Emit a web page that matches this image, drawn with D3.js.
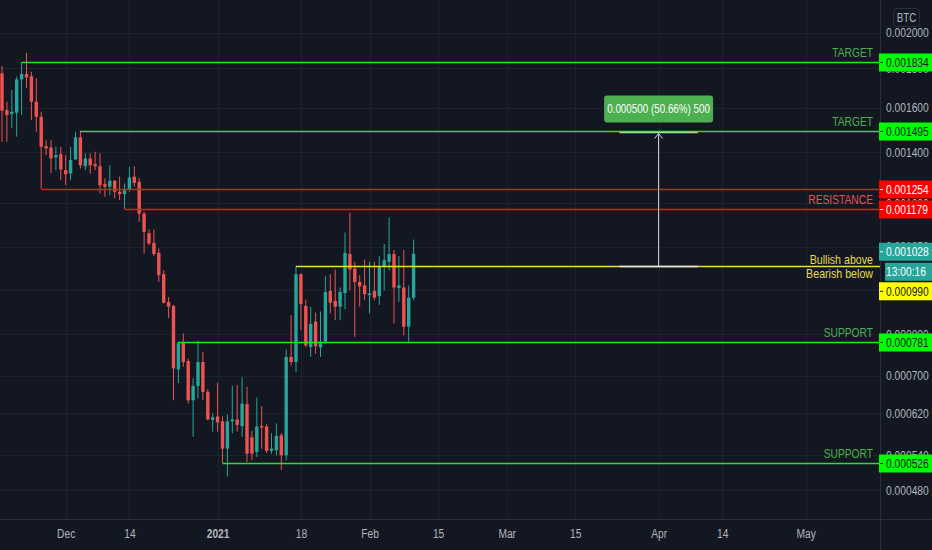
<!DOCTYPE html>
<html>
<head>
<meta charset="utf-8">
<script src="https://cdn.jsdelivr.net/npm/d3@7"></script>
<style>
  html, body { margin: 0; padding: 0; background: #131722; }
  svg { display: block; font-family: "Liberation Sans", Arial, sans-serif; }
</style>
</head>
<body>
<svg id="chart" width="932" height="550"></svg>
<script>
// daily candles, first one is 2020-11-18
var firstDay = "2020-11-18";

var opens = [0.001774,0.001590,0.001571,0.001577,0.001742,0.001770,0.001759,0.001630,0.001558,0.001427,
  0.001421,0.001379,0.001393,0.001327,0.001314,0.001371,0.001465,0.001343,0.001375,0.001351,
  0.001343,0.001272,0.001262,0.001285,0.001243,0.001234,0.001252,0.001301,0.001281,0.001163,
  0.001095,0.001063,0.001031,0.000965,0.000885,0.000874,0.000715,0.000778,0.000734,0.000647,
  0.000678,0.000732,0.000665,0.000607,0.000614,0.000604,0.000552,0.000604,0.000608,0.000595,
  0.000639,0.000573,0.000546,0.000595,0.000594,0.000548,0.000549,0.000577,0.000540,0.000744,
  0.000732,0.000965,0.000874,0.000768,0.000832,0.000767,0.000781,0.000916,0.000888,0.000872,
  0.000910,0.001027,0.000982,0.000942,0.000932,0.000904,0.000916,0.000901,0.000989,0.001003,
  0.001027,0.000924,0.000926,0.000819,0.000897];

var highs = [0.001813,0.001630,0.001688,0.001756,0.001834,0.001885,0.001782,0.001747,0.001582,0.001453,
  0.001453,0.001424,0.001424,0.001389,0.001424,0.001490,0.001495,0.001396,0.001396,0.001403,
  0.001396,0.001295,0.001347,0.001288,0.001301,0.001275,0.001340,0.001343,0.001296,0.001169,
  0.001108,0.001108,0.001045,0.000977,0.000899,0.000877,0.000781,0.000802,0.000740,0.000695,
  0.000783,0.000756,0.000671,0.000620,0.000685,0.000614,0.000618,0.000678,0.000680,0.000697,
  0.000676,0.000586,0.000653,0.000635,0.000599,0.000581,0.000600,0.000581,0.000762,0.000849,
  0.000990,0.000968,0.000892,0.000872,0.000856,0.000859,0.000959,0.000965,0.000979,0.000926,
  0.001097,0.001166,0.001003,0.000962,0.001010,0.001003,0.001003,0.001021,0.001059,0.001149,
  0.001040,0.001021,0.001040,0.000932,0.001074];

var lows = [0.001445,0.001446,0.001506,0.001468,0.001566,0.001697,0.001543,0.001490,0.001254,0.001389,
  0.001315,0.001327,0.001288,0.001268,0.001288,0.001368,0.001334,0.001327,0.001314,0.001327,
  0.001237,0.001224,0.001230,0.001218,0.001212,0.001179,0.001243,0.001262,0.001134,0.001029,
  0.001056,0.001021,0.000942,0.000881,0.000841,0.000647,0.000684,0.000721,0.000640,0.000574,
  0.000651,0.000647,0.000606,0.000584,0.000584,0.000526,0.000503,0.000581,0.000584,0.000574,
  0.000528,0.000531,0.000537,0.000552,0.000544,0.000543,0.000540,0.000514,0.000531,0.000724,
  0.000709,0.000810,0.000768,0.000744,0.000752,0.000744,0.000776,0.000854,0.000836,0.000836,
  0.000865,0.000918,0.000793,0.000872,0.000890,0.000854,0.000890,0.000877,0.000918,0.000977,
  0.000827,0.000885,0.000797,0.000781,0.000890];

var closes = [0.001587,0.001566,0.001582,0.001742,0.001770,0.001752,0.001630,0.001558,0.001424,0.001417,
  0.001375,0.001389,0.001330,0.001311,0.001368,0.001465,0.001347,0.001375,0.001347,0.001343,
  0.001268,0.001262,0.001285,0.001243,0.001234,0.001249,0.001298,0.001277,0.001163,0.001100,
  0.001061,0.001027,0.000962,0.000883,0.000872,0.000717,0.000777,0.000732,0.000647,0.000678,
  0.000732,0.000665,0.000608,0.000612,0.000602,0.000552,0.000604,0.000608,0.000597,0.000640,
  0.000543,0.000543,0.000594,0.000592,0.000548,0.000552,0.000576,0.000540,0.000744,0.000732,
  0.000965,0.000879,0.000772,0.000826,0.000770,0.000781,0.000913,0.000883,0.000872,0.000913,
  0.001031,0.000979,0.000942,0.000929,0.000907,0.000909,0.000897,0.000989,0.001008,0.001027,
  0.000926,0.000932,0.000819,0.000897,0.001028];

// horizontal rays drawn on the chart
var levelValues = [0.001834, 0.001495, 0.001254, 0.001179, 0.000990, 0.000781, 0.000526];
var levelStart  = ["2020-11-22", "2020-12-04", "2020-11-26", "2020-12-13", "2021-01-17", "2020-12-24", "2021-01-02"];
var levelKind   = ["target", "target", "resistance", "resistance", "pivot", "support", "support"];
var levelText   = [["TARGET"], ["TARGET"], [], ["RESISTANCE"], ["Bullish above", "Bearish below"], ["SUPPORT"], ["SUPPORT"]];

// price range measure
var measureFrom = "2021-03-24", measureTo = "2021-04-09";
var measureLow = 0.000990, measureHigh = 0.001490;
var measureLabel = "0.000500 (50.66%) 500";
var countdown = "13:00:16";

// axes
var priceTicks = [0.002, 0.0018, 0.0016, 0.0014, 0.0012, 0.00105, 0.00092, 0.0008, 0.0007, 0.00062, 0.00054, 0.00048];
var dateTicks = ["2020-12-01","2020-12-14","2021-01-01","2021-01-18","2021-02-01","2021-02-15","2021-03-01","2021-03-15","2021-04-01","2021-04-14","2021-05-01"];
var dateLabels = ["Dec","14","2021","18","Feb","15","Mar","15","Apr","14","May"];

var kindColor = {target: "#22e622", resistance: "#e81818", pivot: "#e8e030", support: "#22e622"};
var boxColor  = {target: "#00ff00", resistance: "#ff0000", pivot: "#ffff00", support: "#00ff00"};
var boxText   = {target: "#131722", resistance: "#ffffff", pivot: "#131722", support: "#131722"};
var textColor = {target: "#4caf50", resistance: "#e8505a", pivot: "#e8dc48", support: "#4caf50"};

var parse = d3.timeParse("%Y-%m-%d");
var W = 932, H = 550, plotR = 880, plotB = 519;
var off = 0.0001; // log scale of (price + 0.0001)
var squeeze = 0.82; // no narrow font installed, so squeeze the text

// squeeze a text element horizontally around its own anchor point
function narrow(sel) {
    sel.each(function () {
        var t = d3.select(this);
        var tx = +t.attr("x") || 0, ty = +t.attr("y") || 0;
        var old = t.attr("transform") || "";
        t.attr("x", 0).attr("y", 0)
         .attr("transform", old + " translate(" + tx + "," + ty + ") scale(" + squeeze + ",1)");
    });
}

var svg = d3.select("#chart");
svg.append("rect").attr("width", W).attr("height", H).attr("fill", "#131722");

var x = d3.scaleTime()
    .domain([parse("2020-12-01"), parse("2021-05-01")])
    .range([65.7, 805.6]);

var ys = d3.scaleLog()
    .domain([0.002203 + off, 0.000435 + off])
    .range([0, plotB]);
function y(p) { return ys(p + off); }

var candles = opens.map(function (o, i) {
    return {date: d3.timeDay.offset(parse(firstDay), i), o: o, h: highs[i], l: lows[i], c: closes[i]};
});

// grid
var grid = svg.append("g");
grid.selectAll(".vg").data(dateTicks).enter().append("line")
    .attr("x1", function (d) { return Math.round(x(parse(d))) + 0.5; })
    .attr("x2", function (d) { return Math.round(x(parse(d))) + 0.5; })
    .attr("y1", 0).attr("y2", plotB)
    .attr("stroke", "#1e222d");
grid.selectAll(".hg").data(priceTicks).enter().append("line")
    .attr("x1", 0).attr("x2", plotR)
    .attr("y1", function (d) { return Math.round(y(d)) + 0.5; })
    .attr("y2", function (d) { return Math.round(y(d)) + 0.5; })
    .attr("stroke", "#1e222d");

var plot = svg.append("g");

// candles
var cw = 3.4;
var cg = plot.selectAll(".candle").data(candles).enter().append("g")
    .attr("class", "candle");
cg.append("line")
    .attr("x1", function (d) { return x(d.date); })
    .attr("x2", function (d) { return x(d.date); })
    .attr("y1", function (d) { return y(d.h); })
    .attr("y2", function (d) { return y(d.l); })
    .attr("stroke", function (d) { return d.c >= d.o ? "#26a69a" : "#ef5350"; })
    .attr("stroke-width", 1);
cg.append("rect")
    .attr("x", function (d) { return x(d.date) - cw / 2; })
    .attr("width", cw)
    .attr("y", function (d) { return y(Math.max(d.o, d.c)); })
    .attr("height", function (d) { return Math.max(1, Math.abs(y(d.o) - y(d.c))); })
    .attr("fill", function (d) { return d.c >= d.o ? "#26a69a" : "#ef5350"; });

// horizontal rays
levelValues.forEach(function (v, i) {
    var k = levelKind[i];
    var yy = Math.round(y(v)) + 0.5;
    plot.append("line")
        .attr("x1", x(parse(levelStart[i]))).attr("x2", plotR)
        .attr("y1", yy).attr("y2", yy)
        .attr("stroke", kindColor[k]).attr("stroke-width", 1.3);
    var t = levelText[i];
    if (t.length == 1) {
        plot.append("text")
            .attr("x", 873).attr("y", yy - 6)
            .attr("text-anchor", "end")
            .attr("font-size", 12.5)
            .attr("fill", textColor[k])
            .text(t[0]).call(narrow);
    } else if (t.length == 2) {
        plot.append("text").attr("x", 873).attr("y", yy - 2.5)
            .attr("text-anchor", "end").attr("font-size", 13)
            .attr("fill", textColor[k]).text(t[0]).call(narrow);
        plot.append("text").attr("x", 873).attr("y", yy + 11.5)
            .attr("text-anchor", "end").attr("font-size", 13)
            .attr("fill", textColor[k]).text(t[1]).call(narrow);
    }
});

// price range measure
var mx1 = x(parse(measureFrom)), mx2 = x(parse(measureTo)), mxc = (mx1 + mx2) / 2;
var myLo = Math.round(y(measureLow)) + 0.5, myHi = Math.round(y(measureHigh)) + 0.5;
plot.append("line").attr("x1", mx1).attr("x2", mx2).attr("y1", myLo).attr("y2", myLo)
    .attr("stroke", "#e0e3eb").attr("stroke-width", 1.5);
plot.append("line").attr("x1", mx1).attr("x2", mx2).attr("y1", myHi).attr("y2", myHi)
    .attr("stroke", "#a5d6a7").attr("stroke-width", 1.5);
plot.append("line").attr("x1", mxc).attr("x2", mxc).attr("y1", myLo).attr("y2", myHi + 1)
    .attr("stroke", "#d1d4dc").attr("stroke-width", 1);
plot.append("path")
    .attr("d", "M" + (mxc - 4) + "," + (myHi + 6) + "L" + mxc + "," + (myHi + 1) + "L" + (mxc + 4) + "," + (myHi + 6))
    .attr("fill", "none").attr("stroke", "#d1d4dc").attr("stroke-width", 1);
plot.append("rect")
    .attr("x", mxc - 54.5).attr("y", myHi - 37).attr("width", 109).attr("height", 27)
    .attr("rx", 3).attr("fill", "#4caf50");
plot.append("text")
    .attr("x", mxc).attr("y", myHi - 19.5)
    .attr("text-anchor", "middle").attr("font-size", 12)
    .attr("fill", "#ffffff").text(measureLabel).call(narrow);

// separators
svg.append("line").attr("x1", plotR + 0.5).attr("x2", plotR + 0.5).attr("y1", 0).attr("y2", H)
    .attr("stroke", "#2a2e39");
svg.append("line").attr("x1", 0).attr("x2", W).attr("y1", plotB + 0.5).attr("y2", plotB + 0.5)
    .attr("stroke", "#2a2e39");

// right price axis
var yAxis = svg.append("g")
    .attr("transform", "translate(" + plotR + ",0)")
    .call(d3.axisRight(ys)
        .tickValues(priceTicks.map(function (p) { return p + off; }))
        .tickFormat(function (v) { return (v - off).toFixed(6); })
        .tickSize(0).tickPadding(6));
yAxis.select(".domain").remove();
yAxis.selectAll("text").attr("fill", "#b2b5be").attr("font-size", 12.5)
    .attr("font-family", "'Liberation Sans', Arial, sans-serif").call(narrow);

// bottom time axis
var xAxis = svg.append("g")
    .attr("transform", "translate(0," + plotB + ")")
    .call(d3.axisBottom(x)
        .tickValues(dateTicks.map(parse))
        .tickFormat(function (d, i) { return dateLabels[i]; })
        .tickSize(0).tickPadding(10));
xAxis.select(".domain").remove();
xAxis.selectAll("text").attr("fill", "#b2b5be").attr("font-size", 12.5)
    .attr("font-weight", function (d, i) { return dateLabels[i] == "2021" ? "bold" : "normal"; })
    .attr("font-family", "'Liberation Sans', Arial, sans-serif").call(narrow);

// price boxes on the axis
function priceBox(cy, label, fill, fg, x0, tick) {
    var g = svg.append("g");
    g.append("rect").attr("x", x0).attr("y", cy - 9).attr("width", W - x0).attr("height", 18)
        .attr("fill", fill);
    if (tick) {
        g.append("line").attr("x1", x0 + 1).attr("x2", x0 + 4).attr("y1", cy).attr("y2", cy)
            .attr("stroke", fg);
    }
    g.append("text").attr("x", 886).attr("y", cy + 4.5)
        .attr("font-size", 12.5).attr("fill", fg).text(label).call(narrow);
}

levelValues.forEach(function (v, i) {
    if (levelKind[i] == "pivot") return;
    var k = levelKind[i];
    priceBox(Math.round(y(v)) + 0.5, v.toFixed(6), boxColor[k], boxText[k], 879, true);
});

// last price, countdown and the pivot label pushed below them
var last = closes[closes.length - 1];
var cyLast = y(last) - 2;
priceBox(cyLast, last.toFixed(6), "#26a69a", "#ffffff", 879, true);
priceBox(cyLast + 20, countdown, "#26a69a", "#ffffff", 885, false);
var pv = levelValues[levelKind.indexOf("pivot")];
priceBox(cyLast + 39.5, pv.toFixed(6), boxColor.pivot, boxText.pivot, 879, true);

// currency badge
svg.append("rect").attr("x", 893.5).attr("y", 8.5).attr("width", 26).attr("height", 18)
    .attr("rx", 3).attr("fill", "none").attr("stroke", "#2a2e39");
svg.append("text").attr("x", 906.5).attr("y", 21.5).attr("text-anchor", "middle")
    .attr("font-size", 12).attr("fill", "#b2b5be").text("BTC").call(narrow);
</script>
</body>
</html>
